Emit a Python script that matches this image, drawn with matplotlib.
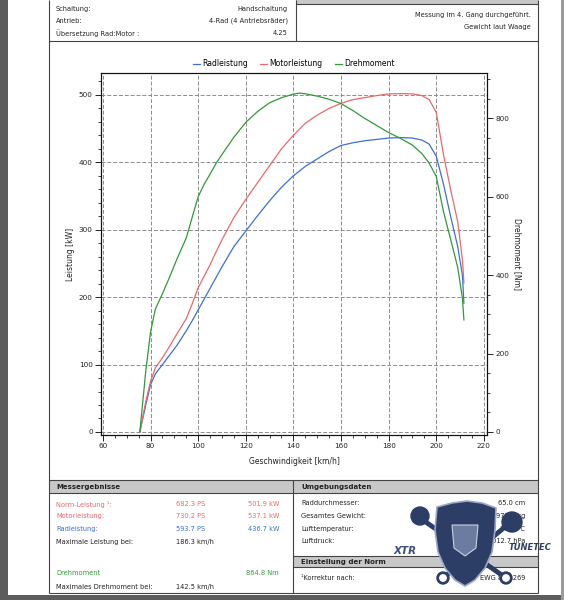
import matplotlib
matplotlib.use("Agg")
import matplotlib.pyplot as plt
from matplotlib.patches import Rectangle, Polygon, Circle
from matplotlib.ticker import MultipleLocator

plt.rcParams['font.family'] = ['DejaVu Sans']

speed = [75.5, 78, 80, 82, 85, 88, 91, 95, 97.5, 100, 102.5, 105, 107.5, 110, 115, 120, 125, 130,
         135, 140, 142.5, 145, 150, 155, 160, 165, 170, 175, 180, 185, 190, 194, 197, 200, 203,
         206, 209, 211, 211.6]
rad_kw = [0, 40, 70, 86, 100, 114, 128, 150, 165, 181, 197, 213, 229, 245, 275, 298, 321, 343,
          363, 380, 387, 394, 405, 416, 425, 429, 432, 434, 436, 436.7, 436, 433, 427, 409, 368,
          320, 275, 232, 191]
motor_kw = [0, 45, 75, 95, 110, 127, 145, 168, 190, 214, 231, 248, 267, 285, 318, 345, 370, 395,
            420, 440, 449, 458, 470, 480, 487.5, 493, 496, 499, 501.5, 501.9, 501.5, 499, 493, 474,
            412, 360, 312, 255, 221]
torque_nm = [0, 155, 255, 313, 353, 395, 440, 495, 548, 600, 632, 658, 685, 708, 752, 790, 818, 840,
             853, 862, 864.8, 863, 857, 849, 838, 820, 800, 782, 764, 749, 732, 710, 686, 652, 563,
             492, 420, 340, 286]

x_ticks = [60, 80, 100, 120, 140, 160, 180, 200, 220]
kw_ticks = [0, 100, 200, 300, 400, 500]
nm_ticks = [0, 200, 400, 600, 800]

c_rad = '#3b6fd4'
c_motor = '#e8686b'
c_torque = '#2f9a38'
c_border = '#444444'
c_head = '#c8c8c8'

fig = plt.figure(figsize=(5.64, 6.0), dpi=100)

# page layer in pixel coordinates
page = fig.add_axes([0, 0, 1, 1])
page.set_xlim(0, 564)
page.set_ylim(600, 0)
page.axis('off')

page.add_patch(Rectangle((0, 0), 8, 600, color='#5c5c5c', lw=0))
page.add_patch(Rectangle((0, 595), 564, 5, color='#5c5c5c', lw=0))
page.add_patch(Rectangle((561, 0), 3, 600, color='#9a9a9a', lw=0))


def hline(y, x0, x1, lw=0.8):
    page.plot([x0, x1], [y, y], color=c_border, lw=lw, solid_capstyle='butt')


def vline(x, y0, y1, lw=0.8):
    page.plot([x, x], [y0, y1], color=c_border, lw=lw, solid_capstyle='butt')


def txt(x, y, s, ha='left', color='#222222', size=4.8, **kw):
    page.text(x, y, s, ha=ha, va='center', color=color, fontsize=size, **kw)


# top table
page.add_patch(Rectangle((296, 0), 242, 4, color=c_head, lw=0))
hline(4, 296, 538)
hline(41, 49, 538)
vline(49, 0, 593)
vline(538, 0, 593)
vline(296, 0, 41)
txt(56, 9, 'Schaltung:')
txt(56, 21, 'Antrieb:')
txt(56, 33, 'Übersetzung Rad:Motor :')
txt(288, 9, 'Handschaltung', ha='right')
txt(288, 21, '4-Rad (4 Antriebsräder)', ha='right')
txt(288, 33, '4.25', ha='right')
txt(531, 15, 'Messung im 4. Gang durchgeführt.', ha='right')
txt(531, 27, 'Gewicht laut Waage', ha='right')

# bottom tables
page.add_patch(Rectangle((49, 480), 489, 13, color=c_head, lw=0))
page.add_patch(Rectangle((293, 556), 245, 11, color=c_head, lw=0))
hline(480, 49, 538)
hline(493, 49, 538)
hline(556, 293, 538)
hline(567, 293, 538)
hline(593, 49, 538)
vline(293, 480, 593)

txt(56, 487, 'Messergebnisse', weight='bold', size=5)
txt(56, 504, 'Norm-Leistung ¹:', color=c_motor)
txt(176, 504, '682.3 PS', color=c_motor)
txt(279, 504, '501.9 kW', ha='right', color=c_motor)
txt(56, 516, 'Motorleistung:', color=c_motor)
txt(176, 516, '730.2 PS', color=c_motor)
txt(279, 516, '537.1 kW', ha='right', color=c_motor)
txt(56, 529, 'Radleistung:', color=c_rad)
txt(176, 529, '593.7 PS', color=c_rad)
txt(279, 529, '436.7 kW', ha='right', color=c_rad)
txt(56, 542, 'Maximale Leistung bei:')
txt(176, 542, '186.3 km/h')
txt(56, 573, 'Drehmoment', color=c_torque)
txt(279, 573, '864.8 Nm', ha='right', color=c_torque)
txt(56, 587, 'Maximales Drehmoment bei:')
txt(176, 587, '142.5 km/h')

txt(301, 487, 'Umgebungsdaten', weight='bold', size=5)
txt(301, 503, 'Raddurchmesser:')
txt(525, 503, '65.0 cm', ha='right')
txt(301, 516, 'Gesamtes Gewicht:')
txt(525, 516, '1975.0 kg', ha='right')
txt(301, 529, 'Lufttemperatur:')
txt(525, 529, '20.0 °C', ha='right')
txt(301, 541, 'Luftdruck:')
txt(525, 541, '1012.7 hPa', ha='right')
txt(301, 562, 'Einstellung der Norm', weight='bold', size=5)
txt(301, 578, '¹Korrektur nach:')
txt(525, 578, 'EWG 80/1269', ha='right')

# watermark logo (rough)
navy = '#2c3e66'
page.plot([420, 506], [518, 578], color=navy, lw=3.5, solid_capstyle='round', zorder=5)
page.plot([511, 443], [522, 578], color=navy, lw=3.5, solid_capstyle='round', zorder=5)
for cx, cy, r in [(420, 516, 9), (512, 522, 10)]:
    page.add_patch(Circle((cx, cy), r, color=navy, zorder=5))
for cx, cy in [(506, 578), (443, 578)]:
    page.add_patch(Circle((cx, cy), 6, color=navy, zorder=5))
    page.add_patch(Circle((cx, cy), 3.2, color='white', zorder=6))
shield = [(437, 507), (452, 503), (467, 501), (482, 503), (496, 508), (495, 530), (492, 552),
          (485, 568), (475, 580), (465, 586), (455, 580), (445, 568), (438, 552), (435, 530)]
page.add_patch(Polygon(shield, closed=True, facecolor=navy, edgecolor='#9aa7c4', lw=1.2, zorder=7))
page.add_patch(Polygon([(452, 525), (478, 525), (476, 548), (465, 556), (454, 548)], closed=True,
                       facecolor='#6c7ca0', edgecolor='#c9d0e0', lw=0.8, zorder=8))
txt(405, 551, 'XTR', color='#3d4f80', size=7.5, weight='bold', style='italic', ha='center', zorder=9)
txt(530, 548, 'TUNETEC', color=navy, size=6, weight='bold', style='italic', ha='center', zorder=9)

# chart
ax = fig.add_axes([101 / 564, 1 - 435 / 600, 386 / 564, 362 / 600])
ax.set_facecolor('white')
l1, = ax.plot(speed, rad_kw, color=c_rad, lw=0.9, label='Radleistung')
l2, = ax.plot(speed, motor_kw, color=c_motor, lw=0.9, label='Motorleistung')
ax2 = ax.twinx()
l3, = ax2.plot(speed, torque_nm, color=c_torque, lw=0.9, label='Drehmoment')

ax.set_xlim(59.2, 221.3)
ax.set_ylim(-4.5, 532.5)
ax2.set_ylim(-7.7, 916)
ax.set_xticks(x_ticks)
ax.set_yticks(kw_ticks)
ax2.set_yticks(nm_ticks)
ax.xaxis.set_minor_locator(MultipleLocator(5))
ax.yaxis.set_minor_locator(MultipleLocator(20))
ax2.yaxis.set_minor_locator(MultipleLocator(50))
ax.grid(True, which='major', color='#8c8c8c', ls=(0, (4, 2)), lw=0.7)
ax.set_axisbelow(True)

for a in (ax, ax2):
    a.tick_params(which='major', length=4, width=0.7, labelsize=5.2, colors='#222222', pad=2)
    a.tick_params(which='minor', length=2.2, width=0.6, colors='#222222')
    for sp in a.spines.values():
        sp.set_linewidth(0.8)
        sp.set_color('#111111')

ax.set_xlabel('Geschwindigkeit [km/h]', fontsize=5.5, color='#222222', va='center')
ax.xaxis.set_label_coords(0.5, -0.072)
ax.set_ylabel('Leistung [kW]', fontsize=5.5, color='#222222', rotation=90, va='center', ha='center')
ax.yaxis.set_label_coords(-0.08, 0.5)
ax2.set_ylabel('Drehmoment [Nm]', fontsize=5.5, color='#222222', rotation=270, va='center', ha='center')
ax2.yaxis.set_label_coords(1.078, 0.5)

ax.legend([l1, l2, l3], [l.get_label() for l in (l1, l2, l3)], loc='center',
          bbox_to_anchor=(0.5, 1.025), ncol=3, frameon=False, fontsize=5.5,
          handlelength=0.9, handletextpad=0.3, columnspacing=1.6, borderaxespad=0)

fig.savefig('out.png', dpi=100)
